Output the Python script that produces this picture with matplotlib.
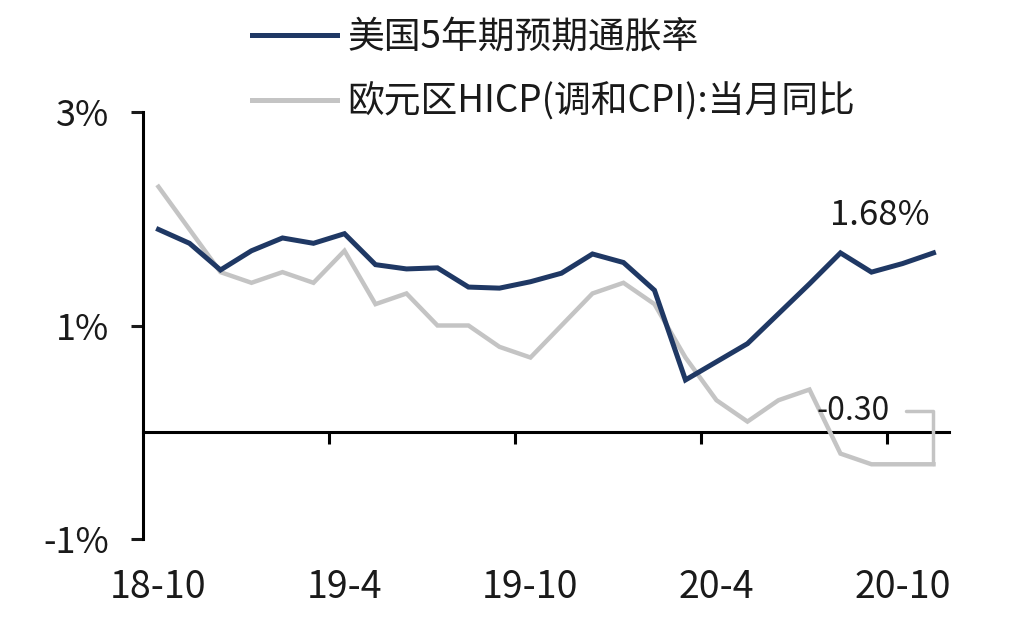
"US 5y breakeven vs euro area HICP"
import numpy as np
import matplotlib
matplotlib.use('Agg')
import matplotlib.pyplot as plt
from matplotlib.lines import Line2D

plt.rcParams['font.family'] = ['Noto Sans CJK SC', 'DejaVu Sans']

"data (monthly, 18-10 .. 20-11)"
months = ['18-10', '18-11', '18-12', '19-1', '19-2', '19-3', '19-4', '19-5', '19-6',
          '19-7', '19-8', '19-9', '19-10', '19-11', '19-12', '20-1', '20-2', '20-3',
          '20-4', '20-5', '20-6', '20-7', '20-8', '20-9', '20-10', '20-11']
us_be5y = [1.90, 1.77, 1.52, 1.70, 1.82, 1.77, 1.86, 1.57, 1.53, 1.54, 1.36, 1.35, 1.41,
           1.49, 1.67, 1.59, 1.33, 0.49, 0.66, 0.83, 1.11, 1.39, 1.68, 1.50, 1.58, 1.68]
ez_hicp = [2.30, 1.90, 1.50, 1.40, 1.50, 1.40, 1.70, 1.20, 1.30, 1.00, 1.00, 0.80, 0.70,
           1.00, 1.30, 1.40, 1.20, 0.70, 0.30, 0.10, 0.30, 0.40, -0.20, -0.30, -0.30, -0.30]
label_us = '美国5年期预期通胀率'
label_ez = '欧元区HICP(调和CPI):当月同比'
yticks = [-1, 1, 3]
ytick_labels = ['-1%', '1%', '3%']
xlabel_every = 6

blue = '#1f3864'
grey = '#c4c4c4'

x = np.arange(len(months))

fig = plt.figure(figsize=(10.09, 6.31), dpi=100)
ax = fig.add_axes([0.1417, 0.1458, 0.7988, 0.6767])

ax.plot(x, ez_hicp, color=grey, lw=3.2, solid_joinstyle='miter', zorder=3)
ax.plot(x, us_be5y, color=blue, lw=3.6, solid_joinstyle='miter', zorder=4)

ax.set_xlim(-0.5, len(months) - 0.5)
ax.set_ylim(-1, 3)

# spines
for s in ['top', 'right']:
    ax.spines[s].set_visible(False)
ax.spines['left'].set_linewidth(2.2)
ax.spines['bottom'].set_linewidth(2.2)
ax.spines['bottom'].set_position(('data', 0))

ax.set_yticks(yticks)
ax.set_yticklabels(ytick_labels)
ax.tick_params(axis='y', direction='out', length=8.6, width=2.2, pad=16,
               labelsize=26, colors='#1a1a1a')

# tick marks between categories on the zero line
bounds = np.arange(xlabel_every, len(months), xlabel_every) - 0.5
ax.set_xticks(bounds)
ax.set_xticklabels([])
ax.tick_params(axis='x', direction='out', length=8.6, width=2.2)

# category labels at the bottom
sec = ax.secondary_xaxis(0)
sec.set_xticks(x[::xlabel_every])
sec.set_xticklabels(months[::xlabel_every])
sec.tick_params(length=0, pad=21, labelsize=27, colors='#1a1a1a')
sec.spines['bottom'].set_visible(False)

# value labels
ax.text(23.27, 2.03, '1.68%', ha='center', va='center', fontsize=25, color='#1a1a1a')
ax.annotate('-0.30', xy=(len(months) - 1, ez_hicp[-1]), xytext=(22.4, 0.20),
            ha='center', va='center', fontsize=23, color='#1a1a1a',
            arrowprops=dict(arrowstyle='-', color=grey, lw=2.5, relpos=(1, 0.5),
                            shrinkA=10, shrinkB=0,
                            connectionstyle='angle,angleA=0,angleB=90,rad=0'))

# legend
handles = [Line2D([], [], color=blue, lw=3.6), Line2D([], [], color=grey, lw=3.6)]
fig.legend(handles, [label_us, label_ez], loc='upper left', bbox_to_anchor=(0.2497, 0.972),
           frameon=False, fontsize=26.5, handlelength=2.3, handletextpad=0.3,
           labelspacing=0.7, borderpad=0, borderaxespad=0, labelcolor='#1a1a1a')

fig.savefig('out.png', dpi=100)
